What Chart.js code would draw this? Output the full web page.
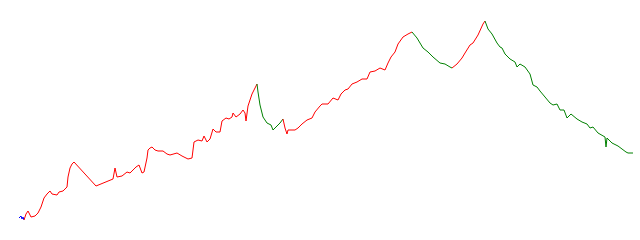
<!DOCTYPE html>
<html>
<head>
<meta charset="utf-8">
<script src="https://cdn.jsdelivr.net/npm/chart.js@4/dist/chart.umd.min.js"></script>
<style>
  html, body { margin: 0; padding: 0; background: #fff; }
</style>
</head>
<body>
<canvas id="trendChart" width="640" height="240"></canvas>
<script>
// Días (eje X) y precios (eje Y)
const days = [
  19,21,22,23,24,26,28,31,35,38,
  41,44,47,50,52,57,59,63,67,68,
  70,72,74,96,113,115,117,122,127,130,
  136,139,142,144,147,148,150,152,155,158,
  163,167,170,177,182,188,192,194,198,202,
  204,207,210,213,216,220,222,226,229,232,
  233,236,240,243,245,246,248,252,255,257,
  258,260,263,267,271,273,277,280,283,285,
  287,288,295,298,302,307,312,315,320,322,
  328,333,338,341,345,348,352,357,362,367,
  370,375,380,385,388,391,395,398,403,408,
  412,417,420,423,428,433,440,445,450,452,
  457,462,465,470,473,478,483,485,488,492,
  497,500,502,505,510,515,517,520,525,530,
  533,537,540,545,550,553,557,560,564,567,
  571,577,582,587,590,593,598,605,606,607,
  612,618,622,626,628,633
];

const prices = [
  22,24,21,23,20,26,29,23,24,27,
  33,42,46,49,46,45,48,49,53,63,
  72,76,78,54,61,72,63,64,68,67,
  73,75,67,68,82,90,92,93,90,89,
  89,86,85,87,84,81,82,98,100,99,
  104,98,101,111,108,108,119,122,121,123,
  127,123,126,130,127,119,134,146,152,156,
  148,135,123,117,115,110,114,117,121,112,
  106,110,110,112,116,120,122,128,134,136,
  136,142,140,146,150,151,156,158,161,161,
  168,169,172,170,177,183,188,196,203,206,
  208,202,197,192,188,183,177,176,173,172,
  176,182,187,195,197,205,216,219,211,206,
  197,193,192,186,181,178,173,176,173,166,
  155,153,149,143,137,135,136,130,130,122,
  126,121,118,116,112,113,107,103,93,102,
  97,94,91,88,87,87
];

// Inicio de cada tramo de tendencia y su color
const trendStart = [19, 24, 257, 283, 412, 452, 485];
const trendColor = ['blue', 'red', 'green', 'red', 'green', 'red', 'green'];

function colorAt(x) {
  let c = trendColor[0];
  for (let i = 0; i < trendStart.length; i++) {
    if (x >= trendStart[i]) c = trendColor[i];
  }
  return c;
}

const ctx = document.getElementById('trendChart').getContext('2d');

new Chart(ctx, {
  type: 'line',
  data: {
    datasets: [{
      data: days.map((d, i) => ({ x: d, y: prices[i] })),
      borderWidth: 1,
      pointRadius: 0,
      tension: 0,
      fill: false,
      segment: {
        borderColor: (c) => colorAt(c.p0.parsed.x)
      }
    }]
  },
  options: {
    responsive: false,
    animation: false,
    layout: { padding: 0 },
    plugins: {
      legend: { display: false },
      tooltip: { enabled: false }
    },
    scales: {
      x: { type: 'linear', min: 0, max: 640, display: false },
      y: { min: 0, max: 240, display: false }
    }
  }
});
</script>
</body>
</html>
